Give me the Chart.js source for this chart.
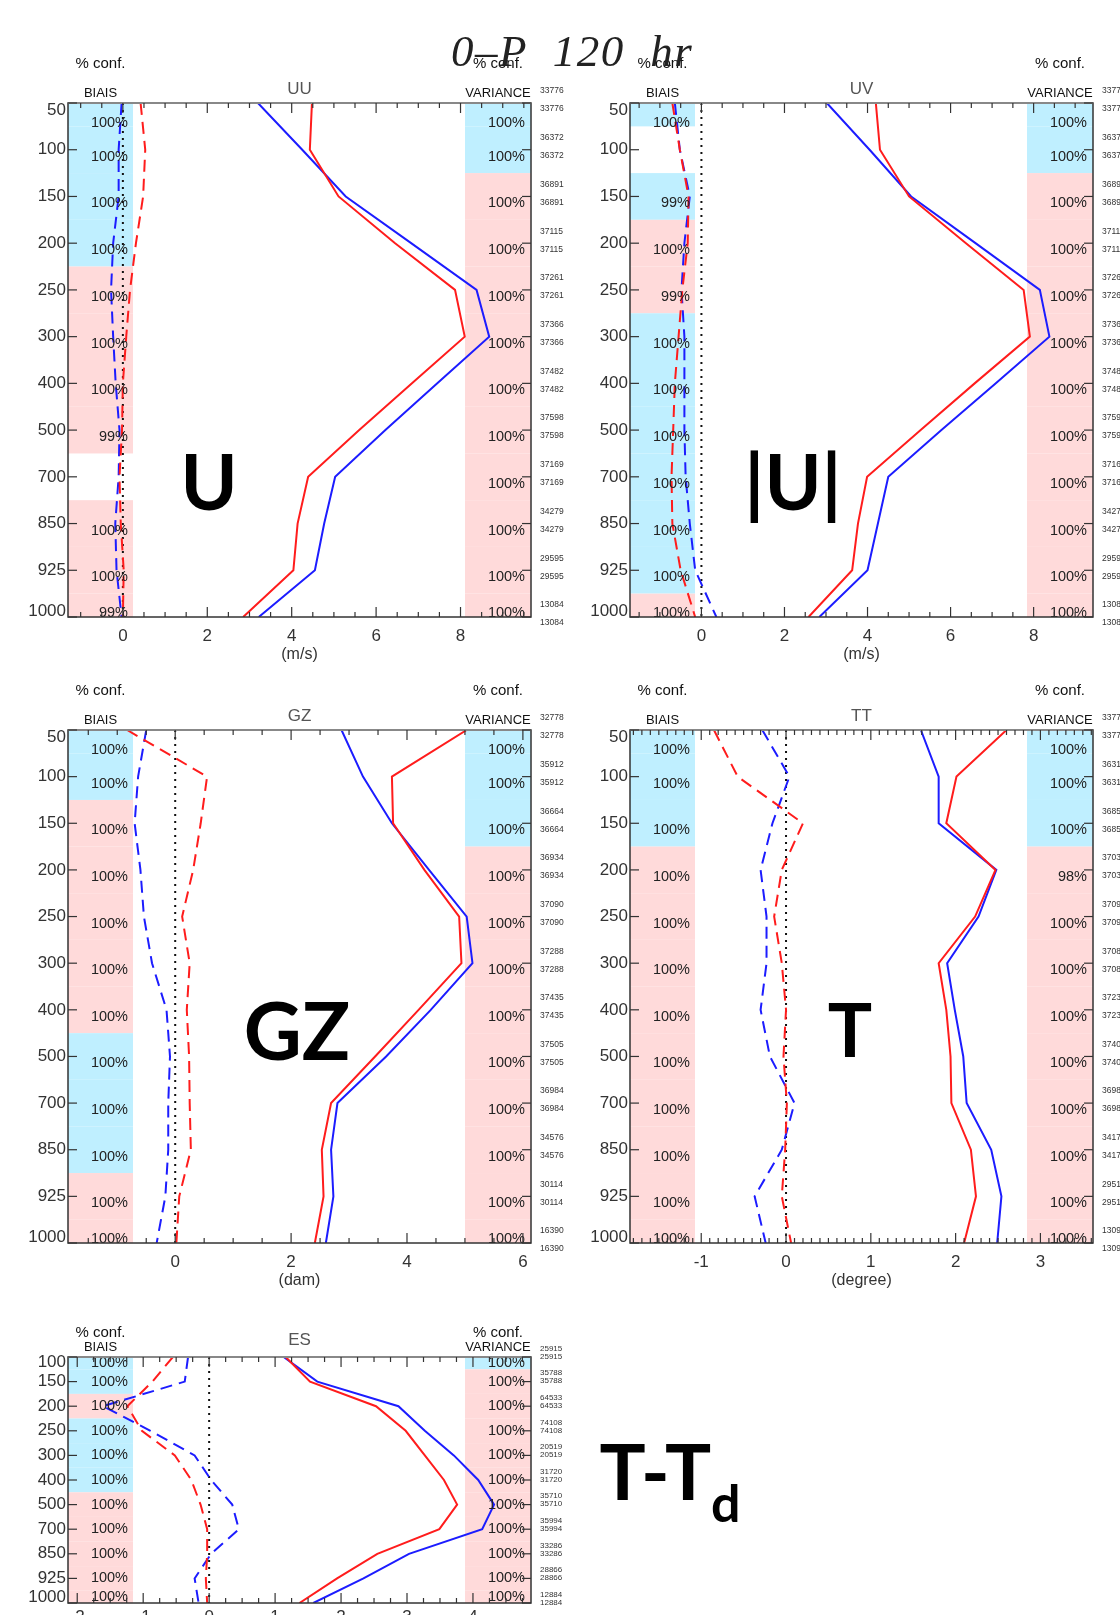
<!DOCTYPE html>
<html><head><meta charset="utf-8">
<script src="https://cdn.jsdelivr.net/npm/chart.js@4.4.1/dist/chart.umd.min.js"></script>
<style>
html,body{margin:0;padding:0;background:#fff;overflow:hidden;}
#page{position:relative;width:1120px;height:1615px;overflow:hidden;background:#fff;}
.big{position:absolute;font-family:Lato,'Open Sans',sans-serif;font-weight:700;color:#000;white-space:nowrap;text-align:center;}
#title{position:absolute;left:451px;top:29px;font-family:'Liberation Serif',serif;font-style:italic;font-size:45px;line-height:45px;letter-spacing:1.5px;color:#222;white-space:pre;}
</style></head><body><div id="page">
<div id="title">0–P  120  hr</div>
</div>
<script>
// ---------- data ----------
const LEVELS = ['50','100','150','200','250','300','400','500','700','850','925','1000'];
const LEVELS_ES = ['100','150','200','250','300','400','500','700','850','925','1000'];

// UU
const uuStdRed   = [4.48, 4.43, 5.11, 6.45, 7.87, 8.10, 6.85, 5.60, 4.39, 4.14, 4.04, 2.85];
const uuStdBlue  = [3.20, 4.25, 5.28, 6.83, 8.38, 8.68, 7.45, 6.22, 5.03, 4.77, 4.55, 3.22];
const uuBiasRed  = [0.42, 0.53, 0.48, 0.31, 0.17, 0.08, 0.00, -0.02, -0.08, -0.05, 0.02, 0.00];
const uuBiasBlue = [-0.03, -0.10, -0.10, -0.23, -0.28, -0.23, -0.17, -0.08, -0.10, -0.18, -0.15, -0.03];
const uuBiasBand = ['b','b','b','b','p','p','p','p','','p','p','p'];
const uuBiasPct  = ['100','100','100','100','100','100','100','99','','100','100','99'];
const uuVarBand  = ['b','b','p','p','p','p','p','p','p','p','p','p'];
const uuVarPct   = ['100','100','100','100','100','100','100','100','100','100','100','100'];
const uuCounts   = [33776, 36372, 36891, 37115, 37261, 37366, 37482, 37598, 37169, 34279, 29595, 13084];

// UV
const uvStdRed   = [4.20, 4.30, 5.00, 6.37, 7.76, 7.91, 6.58, 5.28, 3.99, 3.77, 3.63, 2.58];
const uvStdBlue  = [3.02, 4.05, 5.05, 6.60, 8.15, 8.38, 7.09, 5.78, 4.50, 4.25, 4.00, 2.84];
const uvBiasRed  = [-0.70, -0.52, -0.31, -0.33, -0.46, -0.55, -0.64, -0.68, -0.72, -0.70, -0.50, -0.15];
const uvBiasBlue = [-0.64, -0.52, -0.28, -0.41, -0.48, -0.41, -0.41, -0.41, -0.38, -0.28, -0.15, 0.36];
const uvBiasBand = ['b','','b','p','p','b','b','b','b','b','b','p'];
const uvBiasPct  = ['100','','99','100','99','100','100','100','100','100','100','100'];
const uvVarBand  = ['b','b','p','p','p','p','p','p','p','p','p','p'];
const uvVarPct   = ['100','100','100','100','100','100','100','100','100','100','100','100'];
const uvCounts   = [33776, 36372, 36891, 37115, 37261, 37366, 37482, 37598, 37169, 34279, 29595, 13084];

// GZ
const gzStdRed   = [5.03, 3.74, 3.76, 4.30, 4.90, 4.94, 4.20, 3.45, 2.69, 2.53, 2.56, 2.41];
const gzStdBlue  = [2.87, 3.24, 3.74, 4.38, 5.03, 5.13, 4.41, 3.64, 2.80, 2.69, 2.73, 2.60];
const gzBiasRed  = [-0.83, 0.55, 0.44, 0.31, 0.12, 0.25, 0.20, 0.24, 0.25, 0.27, 0.07, 0.02];
const gzBiasBlue = [-0.50, -0.64, -0.70, -0.60, -0.54, -0.40, -0.15, -0.09, -0.12, -0.12, -0.17, -0.32];
const gzBiasBand = ['b','b','p','p','p','p','p','b','b','b','p','p'];
const gzBiasPct  = ['100','100','100','100','100','100','100','100','100','100','100','100'];
const gzVarBand  = ['b','b','b','p','p','p','p','p','p','p','p','p'];
const gzVarPct   = ['100','100','100','100','100','100','100','100','100','100','100','100'];
const gzCounts   = [32778, 35912, 36664, 36934, 37090, 37288, 37435, 37505, 36984, 34576, 30114, 16390];

// TT
const ttStdRed   = [2.60, 2.01, 1.89, 2.47, 2.23, 1.80, 1.89, 1.94, 1.95, 2.18, 2.24, 2.10];
const ttStdBlue  = [1.59, 1.80, 1.80, 2.48, 2.27, 1.90, 1.99, 2.09, 2.13, 2.42, 2.54, 2.49];
const ttBiasRed  = [-0.85, -0.57, 0.20, -0.05, -0.14, -0.05, 0.00, -0.03, 0.01, -0.01, -0.05, 0.06];
const ttBiasBlue = [-0.28, 0.04, -0.16, -0.30, -0.23, -0.23, -0.30, -0.19, 0.10, -0.05, -0.37, -0.24];
const ttBiasBand = ['b','b','b','p','p','p','p','p','p','p','p','p'];
const ttBiasPct  = ['100','100','100','100','100','100','100','100','100','100','100','100'];
const ttVarBand  = ['b','b','b','p','p','p','p','p','p','p','p','p'];
const ttVarPct   = ['100','100','100','98','100','100','100','100','100','100','100','100'];
const ttCounts   = [33778, 36312, 36854, 37034, 37090, 37088, 37235, 37405, 36984, 34176, 29514, 13090];

// ES
const esStdRed   = [1.16, 1.53, 2.53, 2.98, 3.27, 3.56, 3.76, 3.49, 2.55, 1.94, 1.37];
const esStdBlue  = [1.13, 1.64, 2.87, 3.27, 3.71, 4.08, 4.32, 4.14, 3.03, 2.34, 1.58];
const esBiasRed  = [-0.55, -0.86, -1.24, -1.02, -0.52, -0.27, -0.13, -0.03, -0.03, -0.05, -0.03];
const esBiasBlue = [-0.32, -0.37, -1.61, -0.89, -0.22, 0.03, 0.35, 0.45, 0.03, -0.22, -0.16];
const esBiasBand = ['b','b','p','b','b','b','p','p','p','p','p'];
const esBiasPct  = ['100','100','100','100','100','100','100','100','100','100','100'];
const esVarBand  = ['b','p','p','p','p','p','p','p','p','p','p'];
const esVarPct   = ['100','100','100','100','100','100','100','100','100','100','100'];
const esCounts   = [25915, 35788, 64533, 74108, 20519, 31720, 35710, 35994, 33286, 28866, 12884];

// x tick labels
const uuTicks = [0, 2, 4, 6, 8];
const uvTicks = [0, 2, 4, 6, 8];
const gzTicks = [0, 2, 4, 6];
const ttTicks = [-1, 0, 1, 2, 3];
const esTicks = [-2, -1, 0, 1, 2, 3, 4];

// ---------- styles ----------
const RED = 'rgb(255,28,28)';
const BLUE = 'rgb(28,28,255)';
const BAND_BLUE = 'rgb(191,239,255)';
const BAND_PINK = 'rgb(255,218,218)';
const PAD_L = 68, PAD_T = 80, PAD_R = 90, PAD_B = 55;
const BIAS_W = 65, VAR_W = 66;
Chart.defaults.font.family = '"Liberation Sans", Arial, sans-serif';

const panels = [
  {L:68, T:103, R:531, B:617, levels:LEVELS, xMin:-1.30, xMax:9.67, xTicks:uuTicks, minor:0.5, major:2,
   name:'UU', unit:'(m/s)', stdRed:uuStdRed, stdBlue:uuStdBlue, biasRed:uuBiasRed, biasBlue:uuBiasBlue,
   biasBand:uuBiasBand, biasPct:uuBiasPct, varBand:uuVarBand, varPct:uuVarPct, counts:uuCounts, compact:false},
  {L:630, T:103, R:1093, B:617, levels:LEVELS, xMin:-1.72, xMax:9.43, xTicks:uvTicks, minor:0.5, major:2,
   name:'UV', unit:'(m/s)', stdRed:uvStdRed, stdBlue:uvStdBlue, biasRed:uvBiasRed, biasBlue:uvBiasBlue,
   biasBand:uvBiasBand, biasPct:uvBiasPct, varBand:uvVarBand, varPct:uvVarPct, counts:uvCounts, compact:false},
  {L:68, T:730, R:531, B:1243, levels:LEVELS, xMin:-1.85, xMax:6.14, xTicks:gzTicks, minor:0.5, major:2,
   name:'GZ', unit:'(dam)', stdRed:gzStdRed, stdBlue:gzStdBlue, biasRed:gzBiasRed, biasBlue:gzBiasBlue,
   biasBand:gzBiasBand, biasPct:gzBiasPct, varBand:gzVarBand, varPct:gzVarPct, counts:gzCounts, compact:false},
  {L:630, T:730, R:1093, B:1243, levels:LEVELS, xMin:-1.84, xMax:3.62, xTicks:ttTicks, minor:0.1, major:1,
   name:'TT', unit:'(degree)', stdRed:ttStdRed, stdBlue:ttStdBlue, biasRed:ttBiasRed, biasBlue:ttBiasBlue,
   biasBand:ttBiasBand, biasPct:ttBiasPct, varBand:ttVarBand, varPct:ttVarPct, counts:ttCounts, compact:false},
  {L:68, T:1357, R:531, B:1603, levels:LEVELS_ES, xMin:-2.14, xMax:4.88, xTicks:esTicks, minor:0.25, major:1,
   name:'ES', unit:'', stdRed:esStdRed, stdBlue:esStdBlue, biasRed:esBiasRed, biasBlue:esBiasBlue,
   biasBand:esBiasBand, biasPct:esBiasPct, varBand:esVarBand, varPct:esVarPct, counts:esCounts, compact:true}
];

function decoPlugin(c) {
  function seg(ctx, x1, y1, x2, y2) { ctx.beginPath(); ctx.moveTo(x1, y1); ctx.lineTo(x2, y2); ctx.stroke(); }
  return {
    id: 'deco_' + c.name,
    beforeDatasetsDraw(chart) {
      const {ctx, chartArea: a, scales: {x, y}} = chart;
      ctx.save();
      const band = (arr, x0, w) => arr.forEach((b, i) => {
        if (!b) return;
        const p0 = y.getPixelForValue(i - 0.5), p1 = y.getPixelForValue(i + 0.5);
        const y0 = Math.max(a.top, Math.min(p0, p1)), y1 = Math.min(a.bottom, Math.max(p0, p1));
        ctx.fillStyle = b === 'b' ? BAND_BLUE : BAND_PINK;
        ctx.fillRect(x0, y0, w, y1 - y0);
      });
      band(c.biasBand, a.left, BIAS_W);
      band(c.varBand, a.right - VAR_W, VAR_W);
      const x0 = x.getPixelForValue(0);
      ctx.strokeStyle = '#111'; ctx.lineWidth = 2; ctx.setLineDash([2, 5]);
      seg(ctx, x0, a.top, x0, a.bottom);
      ctx.restore();
    },
    afterDatasetsDraw(chart) {
      const {ctx, chartArea: a, scales: {x, y}} = chart;
      ctx.save();
      // percent labels
      ctx.fillStyle = '#222'; ctx.font = '14.5px "Liberation Sans", Arial, sans-serif';
      ctx.textAlign = 'right'; ctx.textBaseline = 'middle';
      c.levels.forEach((l, i) => {
        const py = y.getPixelForValue(i);
        const ly = c.compact ? Math.min(Math.max(py, a.top + 6), a.bottom - 6)
                             : Math.min(Math.max(py + 7, a.top + 20), a.bottom - 4);
        if (c.biasPct[i]) ctx.fillText(c.biasPct[i] + '%', a.left + BIAS_W - 5, ly);
        if (c.varPct[i]) ctx.fillText(c.varPct[i] + '%', a.right - 6, ly);
      });
      // frame
      ctx.strokeStyle = '#333'; ctx.lineWidth = 1.5; ctx.setLineDash([]);
      ctx.strokeRect(a.left, a.top, a.right - a.left, a.bottom - a.top);
      ctx.strokeStyle = '#888'; ctx.lineWidth = 2;
      seg(ctx, a.left, a.top, a.right, a.top);
      // x ticks (inward, top and bottom)
      ctx.strokeStyle = '#333'; ctx.lineWidth = 1.2;
      const n0 = Math.ceil(c.xMin / c.minor - 1e-9);
      for (let k = n0; k * c.minor <= c.xMax + 1e-9; k++) {
        const v = k * c.minor, px = x.getPixelForValue(v);
        const r = v / c.major, isMaj = Math.abs(r - Math.round(r)) < 1e-6;
        const len = isMaj ? 10 : 5;
        seg(ctx, px, a.bottom, px, a.bottom - len);
        seg(ctx, px, a.top, px, a.top + len);
      }
      // y ticks (inward, left and right)
      c.levels.forEach((l, i) => {
        const py = y.getPixelForValue(i);
        seg(ctx, a.left, py, a.left + 9, py);
        seg(ctx, a.right, py, a.right - 9, py);
      });
      // headers
      const bx = a.left + BIAS_W / 2, vx = a.right - VAR_W / 2, cx = (a.left + a.right) / 2;
      const confY = c.compact ? a.top - 24 : a.top - 39;
      ctx.textAlign = 'center'; ctx.textBaseline = 'middle'; ctx.fillStyle = '#111';
      ctx.font = '15px "Liberation Sans", Arial, sans-serif';
      ctx.fillText('% conf.', bx, confY);
      ctx.fillText('% conf.', vx, confY);
      ctx.font = '13px "Liberation Sans", Arial, sans-serif';
      ctx.fillText('BIAIS', bx, a.top - 10);
      ctx.fillText('VARIANCE', vx, a.top - 10);
      ctx.fillStyle = '#555'; ctx.font = '17px "Liberation Sans", Arial, sans-serif';
      ctx.fillText(c.name, cx, c.compact ? a.top - 17 : a.top - 14);
      if (c.unit) { ctx.fillStyle = '#333'; ctx.font = '16px "Liberation Sans", Arial, sans-serif'; ctx.fillText(c.unit, cx, a.bottom + 38); }
      // counts
      ctx.fillStyle = '#333'; ctx.textAlign = 'left';
      ctx.font = (c.compact ? '8px' : '8.5px') + ' "Liberation Sans", Arial, sans-serif';
      c.counts.forEach((n, i) => {
        const py = y.getPixelForValue(i);
        const d1 = c.compact ? -8.5 : -12, d2 = c.compact ? -0.5 : 6;
        ctx.fillText(String(n), a.right + 9, py + d1);
        ctx.fillText(String(n), a.right + 9, py + d2);
      });
      ctx.restore();
    }
  };
}

function series(vals, color, dashed) {
  return {
    data: vals.map((v, i) => ({x: v, y: i})),
    borderColor: color, backgroundColor: color,
    borderWidth: 2, borderDash: dashed ? [12, 7] : [],
    pointRadius: 0, fill: false, tension: 0
  };
}

const page = document.getElementById('page');
panels.forEach(c => {
  const W = c.R - c.L + PAD_L + PAD_R, H = c.B - c.T + PAD_T + PAD_B;
  const n = c.levels.length;
  const off0 = c.compact ? 0.2 : 0.15, offN = c.compact ? 0.24 : 0.12;
  const cv = document.createElement('canvas');
  cv.width = W; cv.height = H;
  cv.style.cssText = `position:absolute;left:${c.L - PAD_L}px;top:${c.T - PAD_T}px;width:${W}px;height:${H}px;`;
  page.insertBefore(cv, document.getElementById('title'));
  new Chart(cv, {
    type: 'line',
    data: { datasets: [
      series(c.stdRed, RED, false), series(c.stdBlue, BLUE, false),
      series(c.biasRed, RED, true), series(c.biasBlue, BLUE, true)
    ]},
    options: {
      responsive: false, animation: false, devicePixelRatio: 1, indexAxis: 'y',
      layout: { padding: { left: 0, top: PAD_T, right: PAD_R, bottom: 0 } },
      plugins: { legend: { display: false }, tooltip: { enabled: false } },
      scales: {
        x: { type: 'linear', position: 'bottom', min: c.xMin, max: c.xMax,
             grid: { display: false, drawTicks: false }, border: { display: false },
             afterBuildTicks: s => { s.ticks = c.xTicks.map(v => ({ value: v })); },
             afterFit: s => { s.height = PAD_B; },
             ticks: { font: { size: 17 }, color: '#333', padding: c.compact ? 4 : 9, autoSkip: false, maxRotation: 0,
                      callback: v => String(v) } },
        y: { type: 'linear', position: 'left', min: 0, max: n - 1, reverse: true,
             grid: { display: false, drawTicks: false }, border: { display: false },
             afterBuildTicks: s => { s.ticks = c.levels.map((l, i) => ({ value: i === 0 ? off0 : (i === n - 1 ? n - 1 - offN : i) })); },
             afterFit: s => { s.width = PAD_L; },
             ticks: { font: { size: 17 }, color: '#333', padding: 2, autoSkip: false,
                      callback: v => c.levels[Math.round(v)] } }
      }
    },
    plugins: [decoPlugin(c)]
  });
});

// big labels
function big(text, cx, top, size, sx, html) {
  const d = document.createElement('div');
  d.className = 'big';
  d.style.cssText = `left:${cx - 150}px;top:${top}px;width:300px;font-size:${size}px;line-height:${size}px;transform:scaleX(${sx});`;
  if (html) d.innerHTML = text; else d.textContent = text;
  page.appendChild(d);
}
big('U', 209, 441.7, 77, 1);
big('|U|', 793, 441.7, 77, 1);
big('GZ', 297, 989, 80, 1);
big('T', 850, 992, 74, 1);
big('T-T<span style="font-size:52px;position:relative;top:22px;">d</span>', 670, 1431.7, 77, 1, true);
</script>
</body></html>
